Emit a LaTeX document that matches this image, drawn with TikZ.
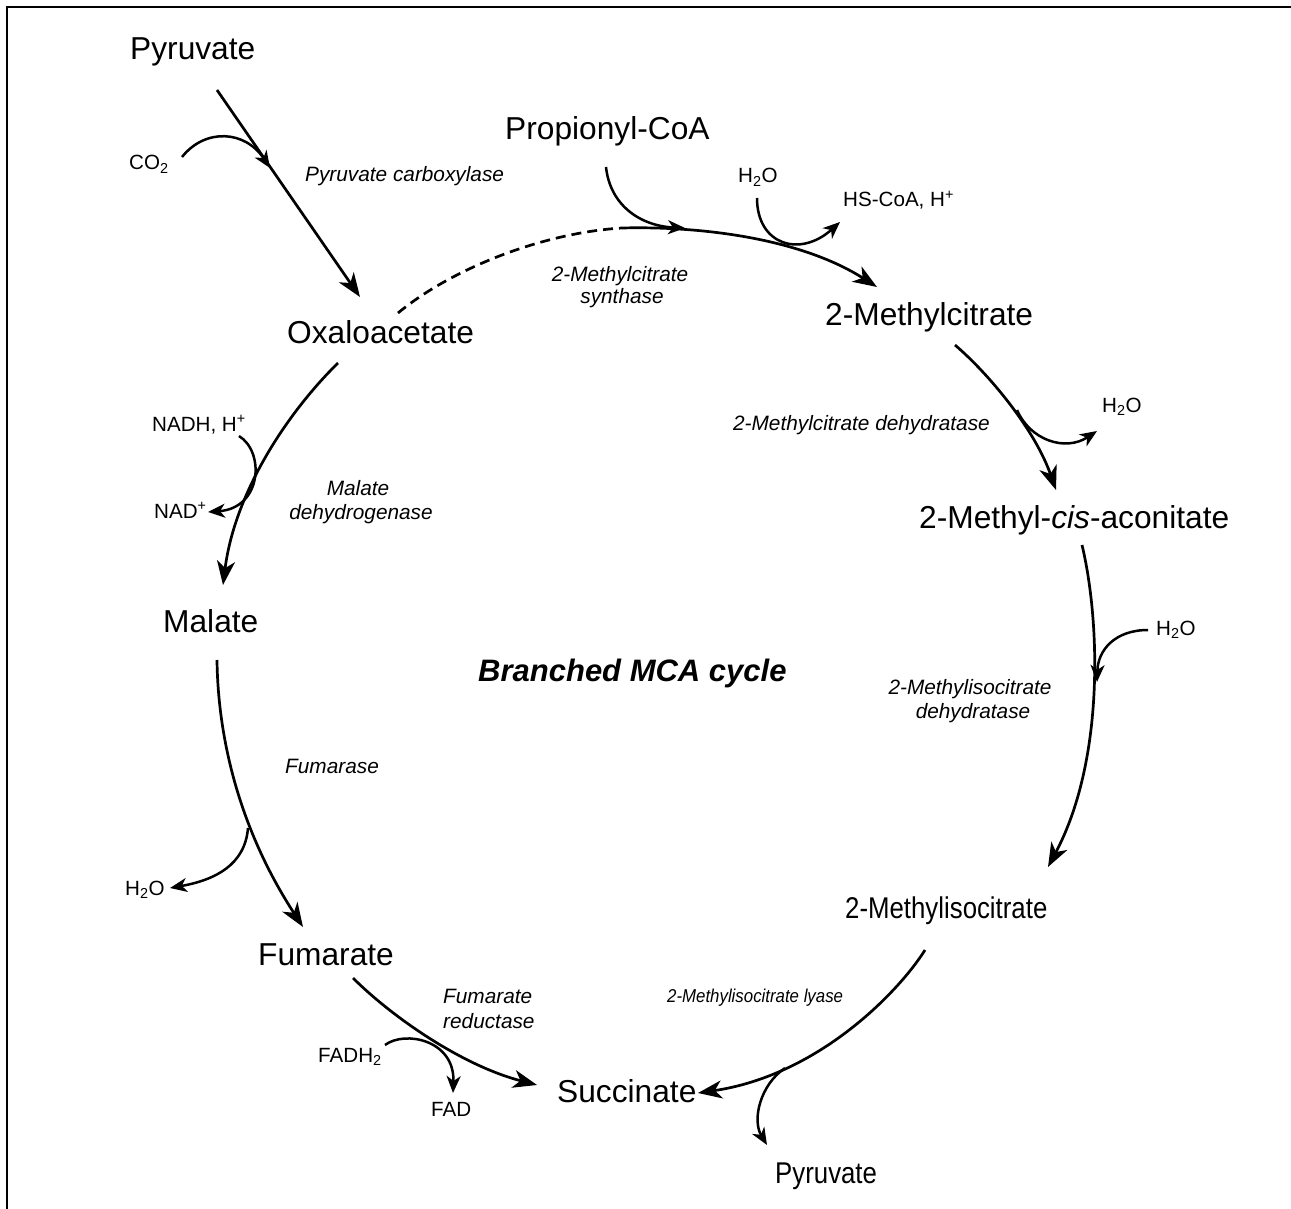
\documentclass[tikz,border=0pt]{standalone}
\usepackage{fontspec}
\setmainfont{Liberation Sans}
\usetikzlibrary{arrows.meta}
\begin{document}
\begin{tikzpicture}[x=1pt,y=-1pt,
  met/.style={inner sep=0pt, anchor=base west, font=\fontsize{31.7}{36}\selectfont},
  enz/.style={inner sep=0pt, anchor=base west, font=\fontsize{20.8}{25}\selectfont\itshape},
  cof/.style={inner sep=0pt, anchor=base west, font=\fontsize{20.6}{24}\selectfont},
  ttl/.style={inner sep=0pt, anchor=base west, font=\fontsize{31}{36}\selectfont\bfseries\itshape},
  mainarr/.style={line width=2.7pt, -{Stealth[length=24pt,width=18pt,inset=7pt]}},
  plain/.style={line width=2.7pt},
  sidearr/.style={line width=2.5pt, -{Stealth[length=17pt,width=14pt,inset=5pt]}},
  frame/.style={line width=2.6pt}
]
\useasboundingbox (0,0) rectangle (1291,1209);
\draw[frame] (7,1209) -- (7,7) -- (1291,7);

% metabolites
\node[met] (pyrA) at (130,60) {Pyruvate};
\node[met] (prop) at (505,140) {Propionyl-CoA};
\node[met] (oaa)  at (287,343) {Oxaloacetate};
\node[met] (mc)   at (825,325) {2-Methylcitrate};
\node[met] (mca)  at (919,528) {2-Methyl-\textit{cis}-aconitate};
\node[met] (mal)  at (163,632) {Malate};
\node[met, font=\fontsize{30}{36}\selectfont] (mic) at (845,918) {\scalebox{0.86}[1]{2-Methylisocitrate}};
\node[met] (fum)  at (258,965) {Fumarate};
\node[met] (suc)  at (557,1102) {Succinate};
\node[met, font=\fontsize{30}{36}\selectfont] (pyrB) at (775,1183) {\scalebox{0.86}[1]{Pyruvate}};

\node[ttl] (title) at (478,681) {Branched MCA cycle};

% enzymes
\node[enz] (e1) at (305,182) {Pyruvate carboxylase};
\node[enz, anchor=base] (e2a) at (620,282) {2-Methylcitrate};
\node[enz, anchor=base] (e2b) at (622,303) {synthase};
\node[enz, anchor=base east] (e3) at (990,430) {2-Methylcitrate dehydratase};
\node[enz, anchor=base] (e4a) at (358,495) {Malate};
\node[enz, anchor=base] (e4b) at (361,519) {dehydrogenase};
\node[enz] (e5) at (285,773) {Fumarase};
\node[enz, anchor=base] (e6a) at (970,694) {2-Methylisocitrate};
\node[enz, anchor=base] (e6b) at (973,718) {dehydratase};
\node[enz] (e7a) at (443,1003) {Fumarate};
\node[enz] (e7b) at (443,1028) {reductase};
\node[enz, font=\fontsize{18.6}{22}\selectfont\itshape] (e8) at (667,1002) {\scalebox{0.905}[1]{2-Methylisocitrate lyase}};

% cofactors
\node[cof] (co2)  at (129,170) {CO\textsubscript{2}};
\node[cof] (h2oA) at (738,183) {H\textsubscript{2}O};
\node[cof] (hscoa) at (843,207) {HS-CoA, H\textsuperscript{+}};
\node[cof] (h2oB) at (1102,412) {H\textsubscript{2}O};
\node[cof] (h2oC) at (1156,635) {H\textsubscript{2}O};
\node[cof] (nadh) at (152,431) {NADH, H\textsuperscript{+}};
\node[cof] (nad)  at (154,518) {NAD\textsuperscript{+}};
\node[cof] (h2oD) at (125,895) {H\textsubscript{2}O};
\node[cof] (fadh) at (318,1062) {FADH\textsubscript{2}};
\node[cof] (fad)  at (431,1116) {FAD};

% connector end points
\coordinate (pA1) at (217,90);   \coordinate (pA2) at (360,297);
\coordinate (co2s) at (182,157); \coordinate (co2e) at (270,168);
\coordinate (oaaS) at (398,313); \coordinate (j1) at (622,228); \coordinate (mcE) at (877,287);
\coordinate (propS) at (606,167); \coordinate (propE) at (685,228);
\coordinate (wAs) at (757,198); \coordinate (wAe) at (840,222);
\coordinate (mcS) at (955,345); \coordinate (mcaE) at (1056,490);
\coordinate (wBs) at (1017,410); \coordinate (wBe) at (1097,431);
\coordinate (mcaS) at (1082,545); \coordinate (micE) at (1048,867);
\coordinate (wCs) at (1148,630); \coordinate (wCe) at (1097,682);
\coordinate (micS) at (925,950); \coordinate (sucE1) at (698,1093);
\coordinate (pBs) at (785,1068); \coordinate (pBe) at (767,1145);
\coordinate (fumS) at (353,978); \coordinate (sucE2) at (537,1085);
\coordinate (fds) at (385,1045); \coordinate (fde) at (453,1093);
\coordinate (malS) at (217,660); \coordinate (fumE) at (303,927);
\coordinate (wDs) at (248,828); \coordinate (wDe) at (170,888);
\coordinate (oaaS2) at (338,363); \coordinate (malE) at (223,585);
\coordinate (nds) at (239,436); \coordinate (nde) at (208,512);

% main reactions
\draw[mainarr] (pA1) -- (pA2);
\draw[sidearr] (co2s) .. controls (205,128) and (245,130) .. (co2e);

\draw[plain, dash pattern=on 10pt off 6pt] (oaaS) .. controls (450,270) and (540,233) .. (j1);
\draw[mainarr] (j1) .. controls (700,226) and (800,238) .. (mcE);
\draw[sidearr] (propS) .. controls (610,205) and (640,226) .. (propE);
\draw[sidearr] (wAs) .. controls (757,245) and (800,258) .. (wAe);

\draw[mainarr] (mcS) .. controls (990,375) and (1035,430) .. (mcaE);
\draw[sidearr] (wBs) .. controls (1030,440) and (1065,452) .. (wBe);

\draw[mainarr] (mcaS) .. controls (1100,620) and (1105,760) .. (micE);
\draw[sidearr] (wCs) .. controls (1115,630) and (1098,650) .. (wCe);

\draw[mainarr] (micS) .. controls (900,990) and (820,1075) .. (sucE1);
\draw[sidearr] (pBs) .. controls (760,1085) and (752,1120) .. (pBe);

\draw[mainarr] (fumS) .. controls (390,1015) and (460,1065) .. (sucE2);
\draw[sidearr] (fds) .. controls (405,1030) and (455,1040) .. (fde);

\draw[mainarr] (malS) .. controls (218,740) and (240,830) .. (fumE);
\draw[sidearr] (wDs) .. controls (245,865) and (215,880) .. (wDe);

\draw[mainarr] (oaaS2) .. controls (290,410) and (235,490) .. (malE);
\draw[sidearr] (nds) .. controls (265,452) and (262,508) .. (nde);
\end{tikzpicture}
\end{document}
